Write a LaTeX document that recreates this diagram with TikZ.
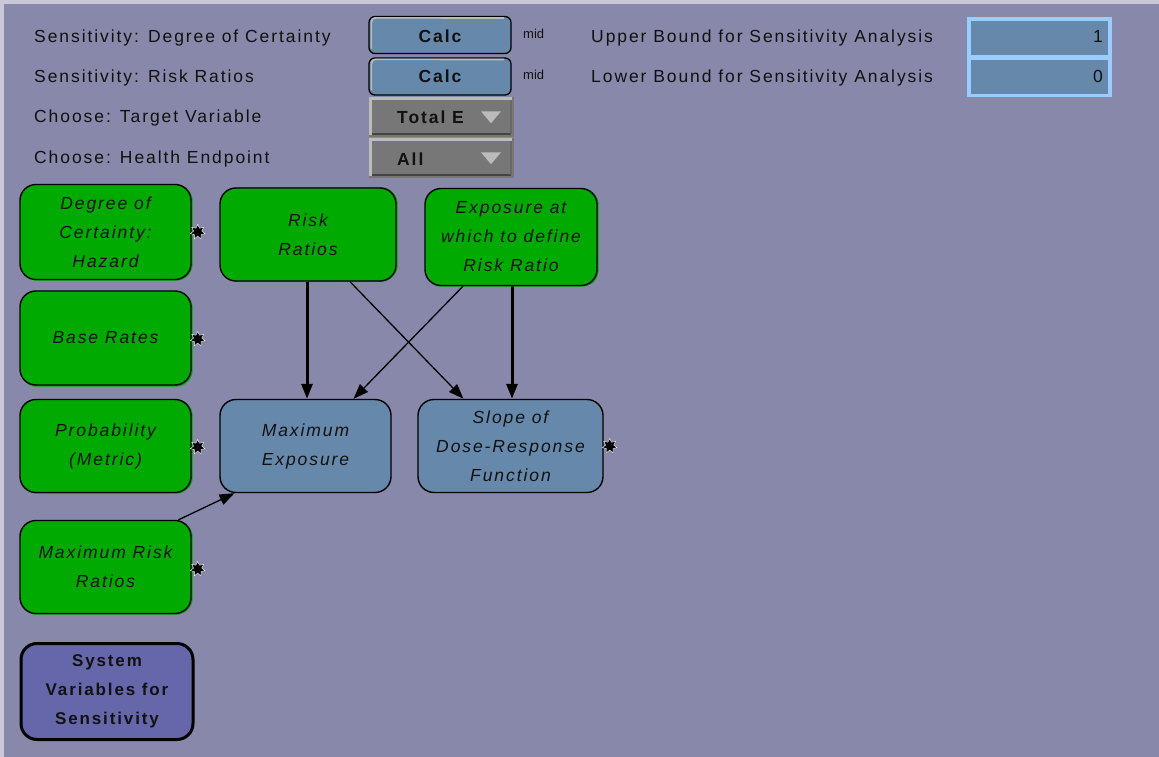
\documentclass[tikz,border=0pt]{standalone}
\usepackage{fontspec}
\setmainfont{Liberation Sans}
\newfontfamily\lblfont[LetterSpace=11]{Liberation Sans}
\usetikzlibrary{arrows.meta,shapes.geometric,calc}
\definecolor{bgc}{HTML}{8888AA}
\definecolor{edgec}{HTML}{C8C8D8}
\definecolor{ngreen}{HTML}{00AA00}
\definecolor{nblue}{HTML}{6688AA}
\definecolor{nsys}{HTML}{6666AA}
\definecolor{ddgray}{HTML}{777777}
\definecolor{ddlight}{HTML}{BBBBBB}
\definecolor{dddark}{HTML}{444444}
\definecolor{fieldedge}{HTML}{99CCFF}
\definecolor{txt}{HTML}{111111}
\tikzset{
  lbltext/.style={inner sep=0pt, font=\lblfont\fontsize{17.5}{19}\selectfont, text=txt},
  nodebox/.style={draw=black, line width=1.4pt, rounded corners=16pt, align=center, inner sep=0pt,
    text=txt, font=\lblfont\itshape\fontsize{17.5}{29}\selectfont},
  gbox/.style={nodebox, fill=ngreen},
  bbox/.style={nodebox, fill=nblue},
  sysbox/.style={nodebox, fill=nsys, line width=3pt, font=\lblfont\bfseries\fontsize{17}{29}\selectfont},
  calcbtn/.style={draw=black, line width=1.3pt, fill=nblue, rounded corners=6pt, minimum width=142pt,
    minimum height=37pt, inner sep=0pt},
  btntext/.style={inner sep=0pt, text=txt, font=\lblfont\bfseries\fontsize{17.5}{19}\selectfont},
  ddbox/.style={fill=ddgray, minimum width=145pt, minimum height=40pt, inner sep=0pt},
  ddtri/.style={fill=ddlight, isosceles triangle, shape border rotate=-90, isosceles triangle apex angle=80,
    minimum width=20pt, minimum height=9pt, inner sep=0pt},
  midtext/.style={inner sep=0pt, text=txt, font=\fontsize{13}{14}\selectfont},
  marker/.style={star, star points=7, star point ratio=1.8, fill=black, draw=white, line width=0.4pt,
    minimum size=15pt, inner sep=0pt},
  thk/.style={line width=3pt, -{Triangle[length=15pt,width=11pt]}},
  thn/.style={line width=1.3pt, -{Triangle[length=15pt,width=11pt]}},
  field/.style={fill=nblue, inner sep=0pt, minimum width=137pt, minimum height=34pt},
  shadowg/.style={draw=ngreen, line width=1.4pt, rounded corners=16pt},
}
\begin{document}
\begin{tikzpicture}[x=1pt,y=-1pt]
\useasboundingbox (0,0) rectangle (1159,757);
\fill[bgc] (0,0) rectangle (1159,757);
\fill[edgec] (0,0) rectangle (1159,4);
\fill[edgec] (0,0) rectangle (4,757);

% top labels
\node[lbltext, anchor=base west] (l1) at (34,43) {Sensitivity: Degree of Certainty};
\node[lbltext, anchor=base west] (l2) at (34,83) {Sensitivity: Risk Ratios};
\node[lbltext, anchor=base west] (l3) at (34,123) {Choose: Target Variable};
\node[lbltext, anchor=base west] (l4) at (34,164) {Choose: Health Endpoint};
\node[lbltext, anchor=base west] (l5) at (591,43) {Upper Bound for Sensitivity Analysis};
\node[lbltext, anchor=base west] (l6) at (591,83) {Lower Bound for Sensitivity Analysis};

% calc buttons
\node[calcbtn] (c1) at (440,35) {};
\draw[ddlight, line width=1.6pt, line cap=round] ($(c1.south west)+(3,-6)$) -- ($(c1.north west)+(3,6)$) arc[start angle=180,end angle=270,radius=4] -- ($(c1.north east)+(-8,2.2)$);
\node[btntext, anchor=base] (c1t) at (440,43) {Calc};
\node[calcbtn] (c2) at (440,76.5) {};
\draw[ddlight, line width=1.6pt, line cap=round] ($(c2.south west)+(3,-6)$) -- ($(c2.north west)+(3,6)$) arc[start angle=180,end angle=270,radius=4] -- ($(c2.north east)+(-8,2.2)$);
\node[btntext, anchor=base] (c2t) at (440,83) {Calc};
\node[midtext, anchor=base west] (m1) at (523,39) {mid};
\node[midtext, anchor=base west] (m2) at (523,80) {mid};

% dropdowns
\node[ddbox] (dd1) at (441.5,117) {};
\draw[ddlight, line width=3pt] (dd1.south west) ++(1.5,-2) |- ($(dd1.north east)+(-2,1.5)$);
\draw[dddark, line width=2pt] ($(dd1.south west)+(3,-3)$) -- ($(dd1.south east)+(-3,-3)$);
\draw[dddark!80, line width=2pt] ($(dd1.north east)+(-3,3)$) -- ($(dd1.south east)+(-3,-3)$);
\node[btntext, anchor=base west] (dd1t) at (397,124) {Total E};
\node[ddtri] (dd1a) at (491,116) {};

\node[ddbox] (dd2) at (441.5,158) {};
\draw[ddlight, line width=3pt] (dd2.south west) ++(1.5,-2) |- ($(dd2.north east)+(-2,1.5)$);
\draw[dddark, line width=2pt] ($(dd2.south west)+(3,-3)$) -- ($(dd2.south east)+(-3,-3)$);
\draw[dddark!80, line width=2pt] ($(dd2.north east)+(-3,3)$) -- ($(dd2.south east)+(-3,-3)$);
\node[btntext, anchor=base west] (dd2t) at (397,165) {All};
\node[ddtri] (dd2a) at (491,157) {};

% bound fields
\fill[fieldedge] (967,17) rectangle (1112,97);
\node[field] (f1) at (1039.5,38) {};
\node[field] (f2) at (1039.5,77) {};
\node[lbltext, anchor=base east] (f1t) at (1103,43) {1};
\node[lbltext, anchor=base east] (f2t) at (1103,83) {0};

% green shadows
\draw[shadowg] (21,185) rectangle (192,280);
\draw[shadowg] (21,292) rectangle (192,386);
\draw[shadowg] (21,400) rectangle (192,493);
\draw[shadowg] (21,521) rectangle (192,614);
\draw[shadowg] (221,188) rectangle (397,281);
\draw[shadowg] (426,189) rectangle (598,286);

% model nodes
\node[gbox, minimum width=171pt, minimum height=95pt] (doc) at (105.5,232) {Degree of\\Certainty:\\Hazard};
\node[gbox, minimum width=171pt, minimum height=94pt] (base) at (105.5,338) {Base Rates};
\node[gbox, minimum width=171pt, minimum height=93pt] (prob) at (105.5,446) {Probability\\(Metric)};
\node[gbox, minimum width=171pt, minimum height=93pt] (mrr) at (105.5,567) {Maximum Risk\\Ratios};
\node[sysbox, minimum width=172pt, minimum height=96pt] (sys) at (107,691.5) {System\\Variables for\\Sensitivity};
\node[gbox, minimum width=176pt, minimum height=93pt] (rr) at (308,234.5) {Risk\\Ratios};
\node[gbox, minimum width=172pt, minimum height=97pt] (expo) at (511,237) {Exposure at\\which to define\\Risk Ratio};
\node[bbox, minimum width=171pt, minimum height=93pt] (mexp) at (305.5,446) {Maximum\\Exposure};
\node[bbox, minimum width=185pt, minimum height=93pt] (slope) at (510.5,446) {Slope of\\Dose-Response\\Function};

% markers
\node[marker] (k1) at ($(doc.east)+(6,0)$) {};
\node[marker] (k2) at ($(base.east)+(6,1)$) {};
\node[marker] (k3) at ($(prob.east)+(6,1)$) {};
\node[marker] (k4) at ($(mrr.east)+(6,2)$) {};
\node[marker] (k5) at ($(slope.east)+(6,0)$) {};

% arrows
\draw[thk] ($(rr.south)+(-1,0)$) -- ($(mexp.north)+(1.5,0)$);
\draw[thn] ($(rr.south)+(42,0)$) -- ($(slope.north)+(-47,0)$);
\draw[thn] ($(expo.south)+(-48,0)$) -- ($(mexp.north)+(48,0)$);
\draw[thk] ($(expo.south)+(1,0)$) -- ($(slope.north)+(1.5,0)$);
\draw[thn] ($(mrr.north)+(73,0)$) -- ($(mexp.south)+(-71,0)$);
\end{tikzpicture}
\end{document}
